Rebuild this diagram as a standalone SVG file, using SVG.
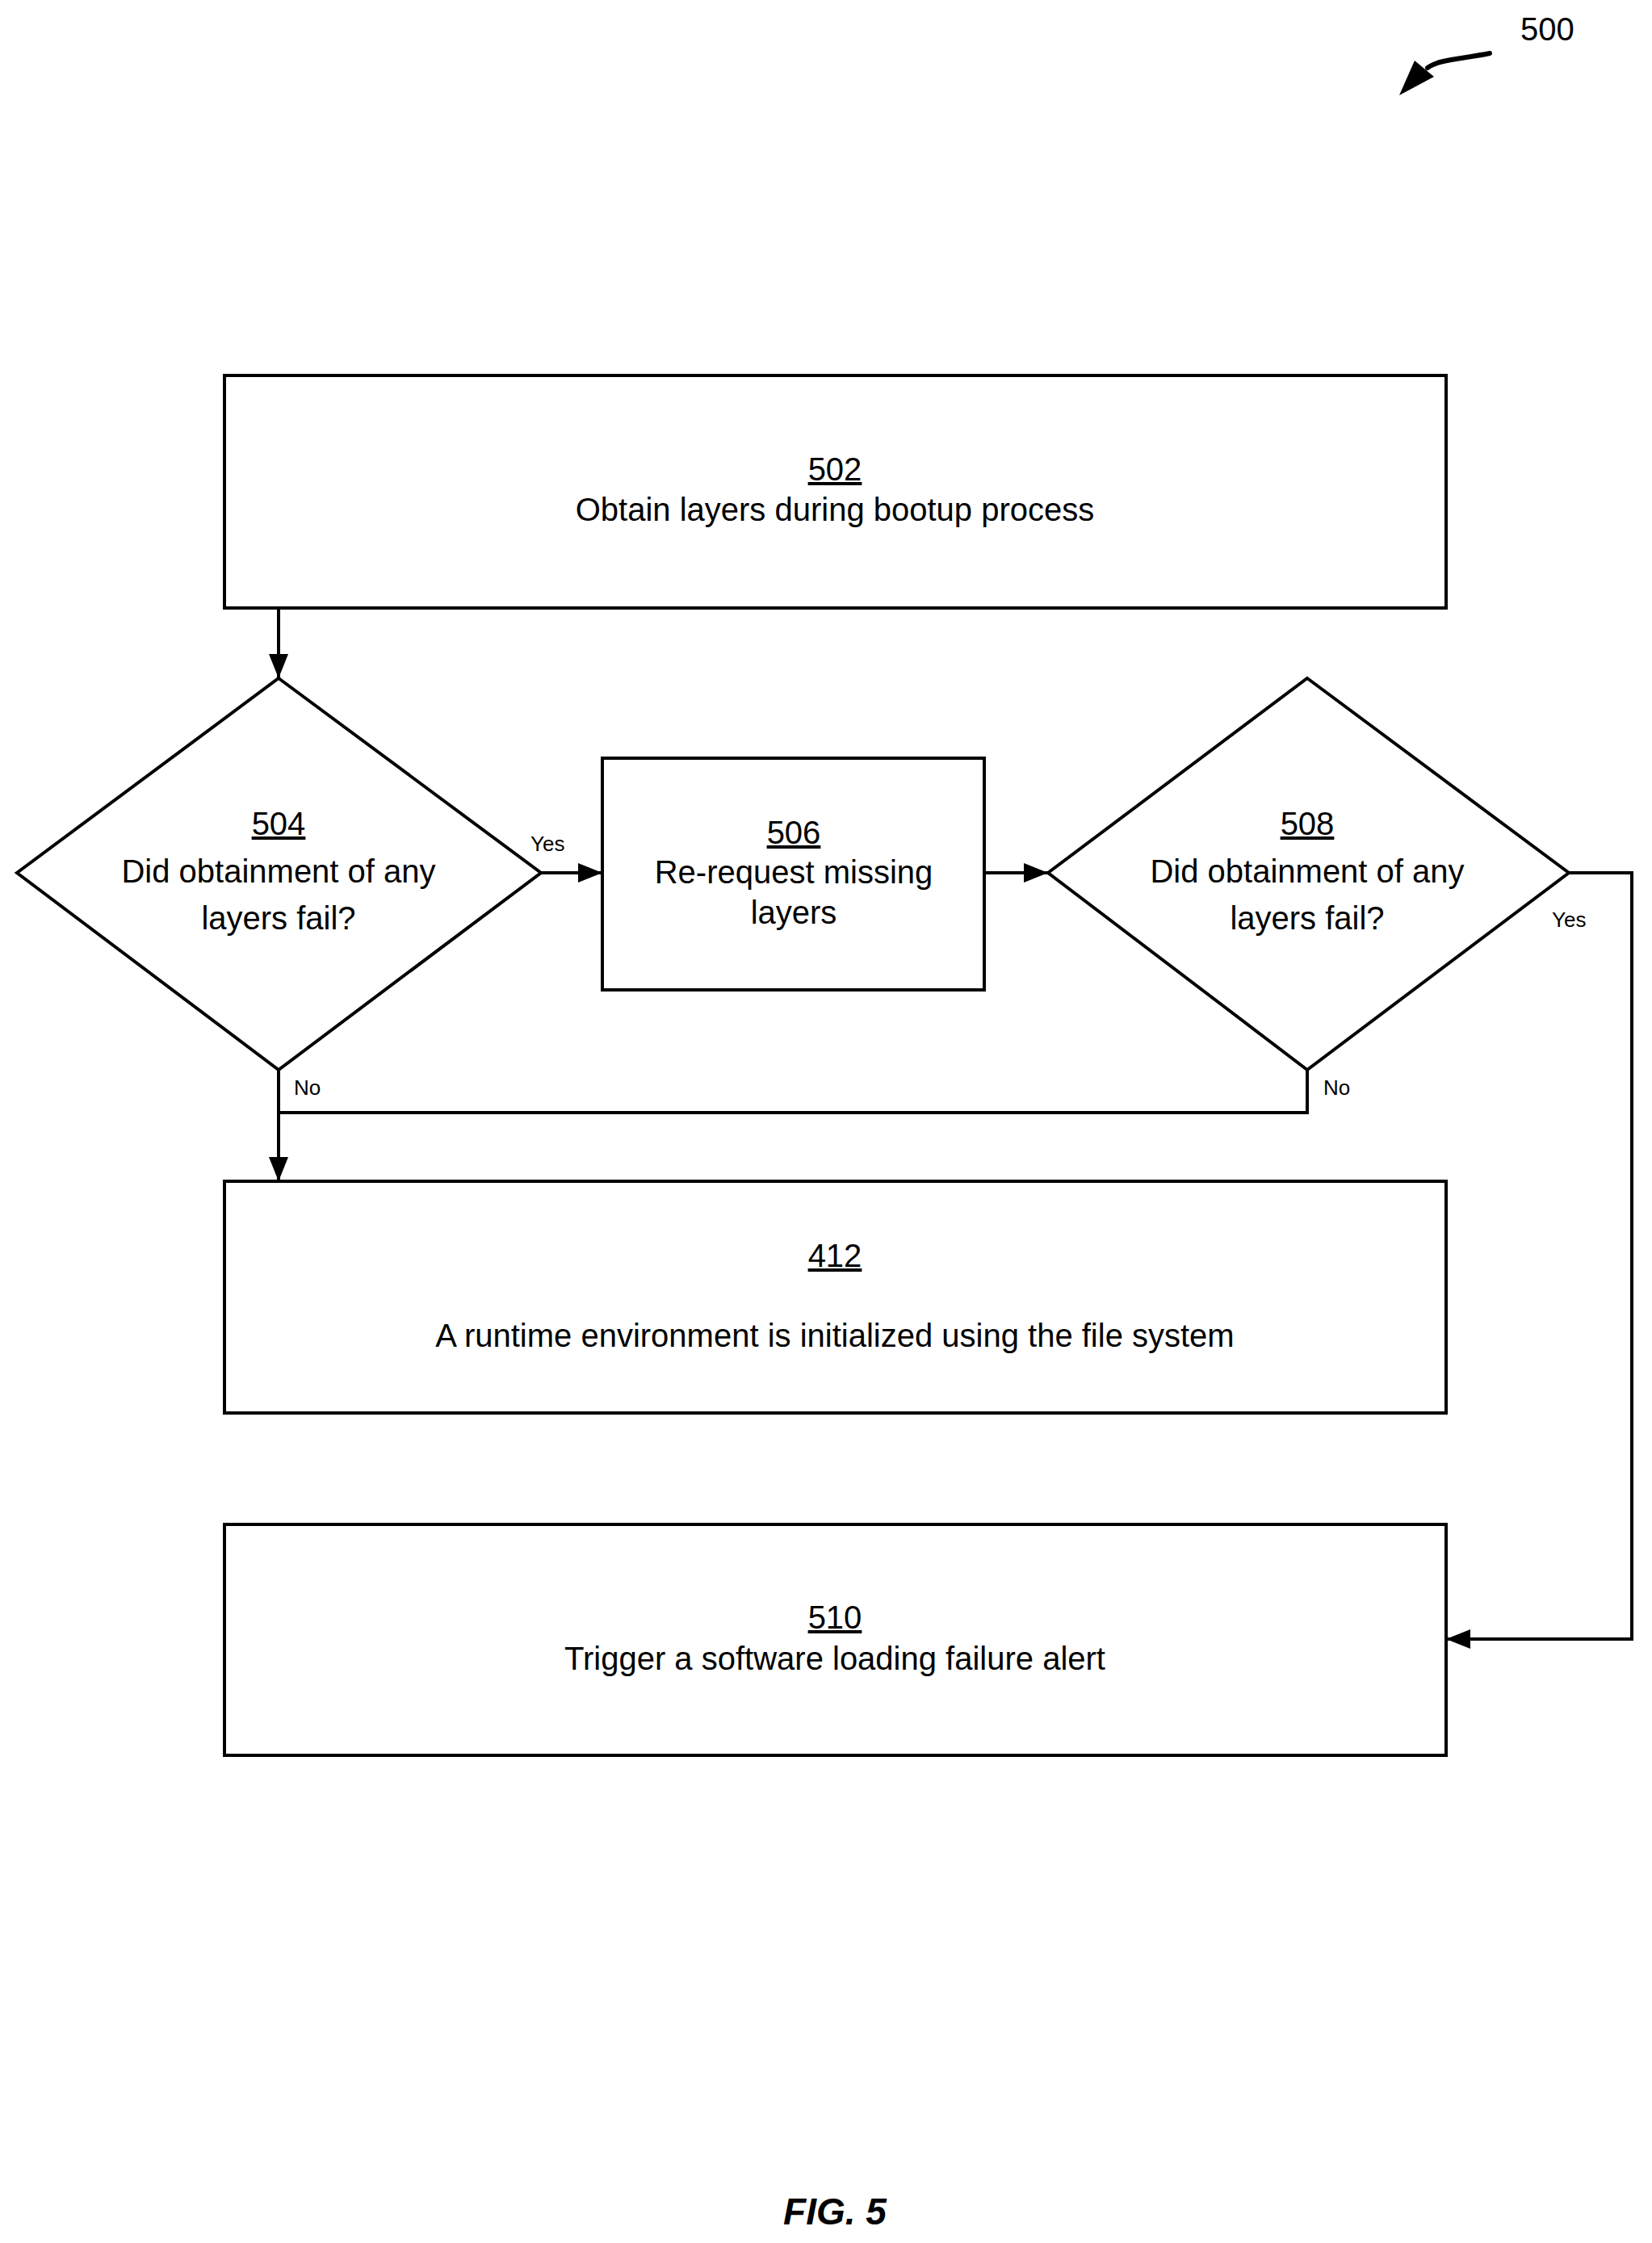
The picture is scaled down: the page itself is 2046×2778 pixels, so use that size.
<svg xmlns="http://www.w3.org/2000/svg" width="2046" height="2778" viewBox="0 0 2046 2778">
<style>
.s{fill:#fff;stroke:#000;stroke-width:4}
.c{fill:none;stroke:#000;stroke-width:4}
.t{font-family:"Liberation Sans",Arial,sans-serif;font-size:40px;text-anchor:middle;fill:#000}
.u{text-decoration:underline}
.l{font-family:"Liberation Sans",Arial,sans-serif;font-size:26px;fill:#000}
</style>
<defs><marker id="a" markerWidth="10" markerHeight="8" refX="10" refY="4" orient="auto" markerUnits="userSpaceOnUse" viewBox="0 0 10 8"><path d="M0,0L10,4L0,8z"/></marker>
<marker id="b" viewBox="0 0 30 24" refX="30" refY="12" markerWidth="30" markerHeight="24" orient="auto" markerUnits="userSpaceOnUse"><path d="M0,0L30,12L0,24z"/></marker></defs>
<g id="n502"><rect class="s" x="278" y="465" width="1513" height="288"/><text class="t u" x="1034" y="595">502</text><text class="t" x="1034" y="645">Obtain layers during bootup process</text></g>
<g id="n504"><path class="s" d="M345,840L670,1081L345,1325L21,1081z"/><text class="t u" x="345" y="1034">504</text><text class="t" x="345" y="1093">Did obtainment of any</text><text class="t" x="345" y="1151">layers fail?</text></g>
<g id="n506"><rect class="s" x="746" y="939" width="473" height="287"/><text class="t u" x="983" y="1045">506</text><text class="t" x="983" y="1094">Re-request missing</text><text class="t" x="983" y="1144">layers</text></g>
<g id="n508"><path class="s" d="M1619,840L1943,1081L1619,1325L1298,1081z"/><text class="t u" x="1619" y="1034">508</text><text class="t" x="1619" y="1093">Did obtainment of any</text><text class="t" x="1619" y="1151">layers fail?</text></g>
<g id="n412"><rect class="s" x="278" y="1463" width="1513" height="287"/><text class="t u" x="1034" y="1569">412</text><text class="t" x="1034" y="1668">A runtime environment is initialized using the file system</text></g>
<g id="n510"><rect class="s" x="278" y="1888" width="1513" height="286"/><text class="t u" x="1034" y="2017">510</text><text class="t" x="1034" y="2068">Trigger a software loading failure alert</text></g>
<g id="connectors">
<path class="c" d="M345,753V840" marker-end="url(#b)"/>
<path class="c" d="M670,1081H746" marker-end="url(#b)"/>
<path class="c" d="M1219,1081H1298" marker-end="url(#b)"/>
<path class="c" d="M345,1325V1463" marker-end="url(#b)"/>
<path class="c" d="M345,1378H1619V1325"/>
<path class="c" d="M1943,1081H2021V2030H1791" marker-end="url(#b)"/>
<text class="l" x="657" y="1054">Yes</text>
<text class="l" x="1922" y="1148">Yes</text>
<text class="l" x="364" y="1356">No</text>
<text class="l" x="1639" y="1356">No</text>
</g>
<g id="ref500"><text x="1883" y="50" style="font-family:'Liberation Sans',Arial,sans-serif;font-size:40px">500</text>
<path d="M1845,66C1810,73 1780,74 1768,84" fill="none" stroke="#000" stroke-width="6" stroke-linecap="round"/><path d="M1733,118L1752,75L1776,95z"/></g>
<text x="1034" y="2755" style="font-family:'Liberation Sans',Arial,sans-serif;font-size:46px;font-weight:bold;font-style:italic;text-anchor:middle">FIG. 5</text>
</svg>
